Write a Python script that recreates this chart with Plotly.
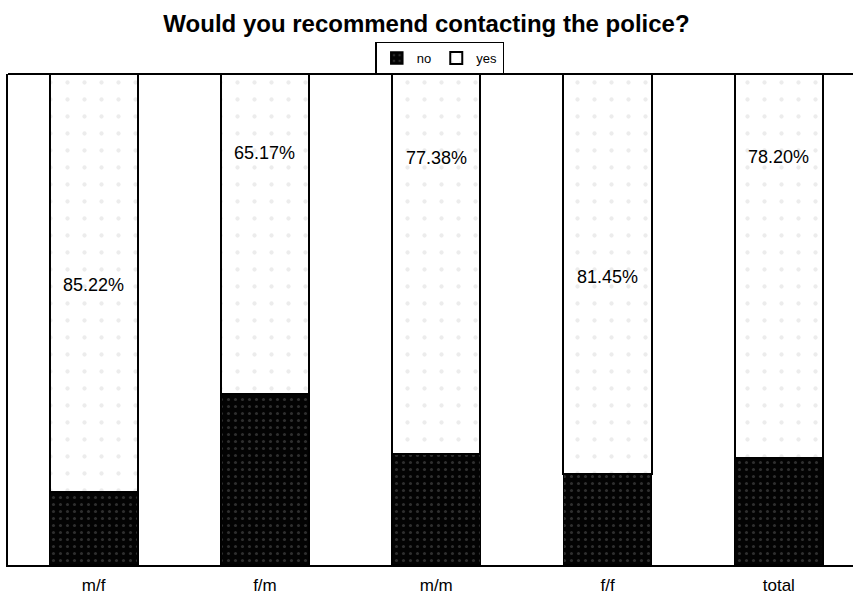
import plotly.graph_objects as go

# Survey answers, percent of respondents per group
groups = ["m/f", "f/m", "m/m", "f/f", "total"]
no_pct = [14.78, 34.83, 22.62, 18.55, 21.80]
yes_pct = [85.22, 65.17, 77.38, 81.45, 78.20]

# Vertical placement of the "yes" percentage labels (in axis units)
label_y = [57.0, 83.9, 82.9, 58.7, 83.1]

FONT = "Liberation Sans, Arial, sans-serif"
BAR_W = 0.515

fig = go.Figure()
fig.add_trace(go.Bar(
    name="no", x=groups, y=no_pct, width=BAR_W,
    marker=dict(
        color="#000000",
        line=dict(color="#000000", width=1.5),
        pattern=dict(shape=".", fgcolor="#5a5a5a", bgcolor="#030303",
                     size=7, solidity=0.15),
    ),
))
fig.add_trace(go.Bar(
    name="yes", x=groups, y=yes_pct, width=BAR_W,
    marker=dict(
        color="#ffffff",
        line=dict(color="#000000", width=2),
        pattern=dict(shape=".", fgcolor="#dadada", bgcolor="#ffffff",
                     size=17, solidity=0.05),
    ),
))

for g, v, ly in zip(groups, yes_pct, label_y):
    fig.add_annotation(x=g, y=ly, text=f"{v:.2f}%", showarrow=False,
                       font=dict(family=FONT, size=18, color="#000000"))

# top edge of the plot frame
fig.add_shape(type="line", xref="paper", yref="paper", x0=0, x1=1.02,
              y0=1, y1=1, line=dict(color="#000000", width=2))

fig.update_layout(
    width=853, height=596,
    margin=dict(l=8, r=0, t=74, b=31),
    barmode="stack",
    plot_bgcolor="#ffffff", paper_bgcolor="#ffffff",
    font=dict(family=FONT, color="#000000"),
    title=dict(text="<b>Would you recommend contacting the police?</b>",
               x=0.5, xref="container", xanchor="center",
               y=1 - 24 / 596, yref="container", yanchor="middle",
               font=dict(family=FONT, size=24, color="#000000")),
    legend=dict(orientation="h", x=0.511, xanchor="center",
                y=1.066, yanchor="top",
                bordercolor="#000000", borderwidth=1.5,
                bgcolor="#ffffff",
                font=dict(family=FONT, size=13),
                itemwidth=30, tracegroupgap=0,
                traceorder="normal"),
    showlegend=True,
)
fig.update_xaxes(range=[-0.5, 4.433], showline=True, linecolor="#000000",
                 linewidth=2, ticks="", showgrid=False, zeroline=False,
                 tickfont=dict(family=FONT, size=17), ticklabelstandoff=4)
fig.update_yaxes(range=[0, 100], showline=True, linecolor="#000000",
                 linewidth=2, showticklabels=False, ticks="",
                 showgrid=False, zeroline=False)

fig.write_html("out.html")
